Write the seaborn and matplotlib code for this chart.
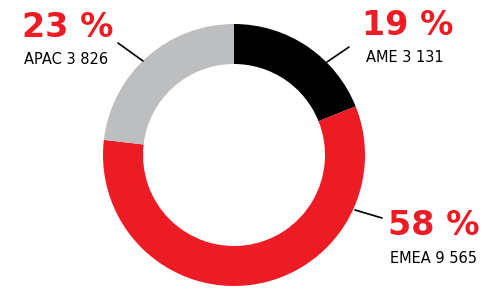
import matplotlib
matplotlib.use("Agg")
import matplotlib.pyplot as plt
import seaborn as sns

sns.set_theme(style="white")
plt.rcParams['font.family'] = ['DejaVu Sans']

regions = ["AME", "EMEA", "APAC"]
values = [3131, 9565, 3826]
colors = ["#000000", "#ED1C24", "#BDBEC0"]

# label layout (image pixel coords: x, y from top) -- styling only
pct_pos = [(362, 35), (388, 235), (22, 37)]
name_pos = [(366, 62), (390, 263), (24, 64)]
leaders = [((327, 62), (349, 47)), ((355, 210), (382, 218)), ((143, 61), (118, 43))]

W, H = 502, 288
fig = plt.figure(figsize=(W / 100, H / 100), dpi=100)
ax = fig.add_axes([0, 0, 1, 1])

cx, cy, R = 234, H - 155, 131
ax.pie(values, colors=colors, startangle=90, counterclock=False,
       center=(cx, cy), radius=R,
       wedgeprops=dict(width=40, linewidth=0), frame=True)
ax.set_xlim(0, W)
ax.set_ylim(0, H)
ax.set_aspect("equal")
ax.axis("off")

total = sum(values)
for name, v, pp, npos, (p0, p1) in zip(regions, values, pct_pos, name_pos, leaders):
    pct = round(100 * v / total)
    ax.text(pp[0], H - pp[1], f"{pct} %", color="#ED1C24", fontsize=24,
            fontweight="bold", ha="left", va="baseline")
    vs = f"{v:,}".replace(",", " ")
    ax.text(npos[0], H - npos[1], f"{name} {vs}", color="#000000", fontsize=10.5,
            ha="left", va="baseline")
    ax.plot([p0[0], p1[0]], [H - p0[1], H - p1[1]], color="black", lw=1.2)

fig.savefig("out.png", dpi=100)
